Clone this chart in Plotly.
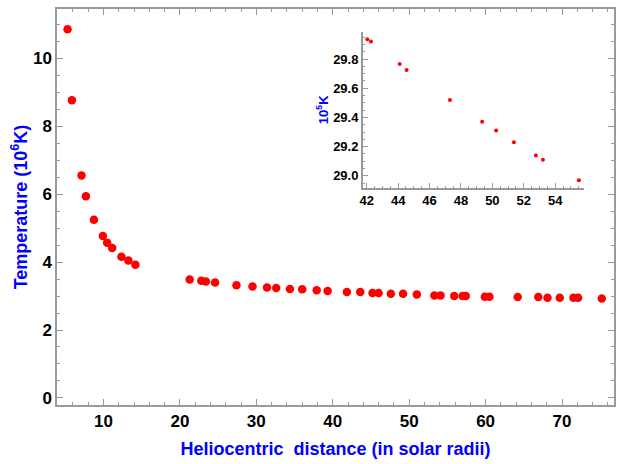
import plotly.graph_objects as go

# Main data: heliocentric distance (solar radii) vs temperature (10^6 K)
dist = [5.3, 5.87, 7.13, 7.7, 8.75, 9.92, 10.48, 11.14, 12.35, 13.26, 14.18,
        21.28, 22.8, 23.4, 24.6, 27.4, 29.5, 31.4, 32.6, 34.4, 36.0, 37.9,
        39.33, 41.85, 43.6, 45.2, 46.0, 47.6, 49.2, 51.0, 53.3, 54.1, 55.9,
        57.0, 57.4, 59.9, 60.5, 64.2, 66.9, 68.1, 69.7, 71.5, 72.1, 75.2]
temp = [10.86, 8.77, 6.55, 5.94, 5.25, 4.77, 4.57, 4.42, 4.16, 4.05, 3.92,
        3.49, 3.45, 3.43, 3.40, 3.32, 3.28, 3.25, 3.24, 3.21, 3.20, 3.17,
        3.15, 3.12, 3.12, 3.09, 3.09, 3.07, 3.07, 3.05, 3.02, 3.02, 3.00,
        3.00, 3.00, 2.98, 2.98, 2.97, 2.97, 2.95, 2.95, 2.95, 2.95, 2.93]

# Inset data: distance vs temperature (10^5 K)
inset_dist = [42.04, 42.27, 44.1, 44.54, 47.3, 49.35, 50.24, 51.37, 52.77, 53.22, 55.51]
inset_temp = [29.936, 29.92, 29.766, 29.725, 29.52, 29.37, 29.31, 29.23, 29.14, 29.11, 28.97]

BLUE = "#0000FF"
GRAY = "#9a9a9a"
FONT = "Liberation Sans"

fig = go.Figure()
fig.add_trace(go.Scatter(x=dist, y=temp, mode="markers",
                         marker=dict(color="#FF0000", size=8.5),
                         xaxis="x", yaxis="y", showlegend=False))
fig.add_trace(go.Scatter(x=inset_dist, y=inset_temp, mode="markers",
                         marker=dict(color="#FF0000", size=4),
                         xaxis="x2", yaxis="y2", showlegend=False))

tickfont_main = dict(family=FONT, size=17, color="black", weight="bold")
tickfont_inset = dict(family=FONT, size=13, color="black", weight="bold")

fig.update_layout(
    width=624, height=464,
    margin=dict(l=57, r=10, t=7, b=59),
    paper_bgcolor="white", plot_bgcolor="white",
    xaxis=dict(
        range=[3.92, 76.8], dtick=10, tick0=0,
        showgrid=False, zeroline=False,
        showline=True, linecolor=GRAY, linewidth=1.5, mirror="allticks",
        ticks="inside", ticklen=6, tickcolor=GRAY, tickwidth=1,
        minor=dict(dtick=2, ticks="inside", ticklen=3, tickcolor=GRAY, showgrid=False),
        tickfont=tickfont_main,
        title=dict(text="Heliocentric  distance (in solar radii)",
                   font=dict(family=FONT, size=18, color=BLUE, weight="bold"),
                   standoff=12),
    ),
    yaxis=dict(
        range=[-0.21, 11.46], dtick=2, tick0=0,
        showgrid=False, zeroline=False,
        showline=True, linecolor=GRAY, linewidth=1.5, mirror="allticks",
        ticks="inside", ticklen=6, tickcolor=GRAY, tickwidth=1,
        minor=dict(dtick=0.5, ticks="inside", ticklen=3, tickcolor=GRAY, showgrid=False),
        tickfont=tickfont_main,
        title=dict(text="Temperature (10<sup>6</sup>K)",
                   font=dict(family=FONT, size=18, color=BLUE, weight="bold"),
                   standoff=1),
    ),
    xaxis2=dict(
        domain=[0.549, 0.946], anchor="y2",
        range=[41.75, 55.83], dtick=2, tick0=0,
        showgrid=False, zeroline=False,
        showline=True, linecolor=GRAY, linewidth=1.5,
        ticks="inside", ticklen=5, tickcolor=GRAY,
        minor=dict(dtick=0.5, ticks="inside", ticklen=2.5, tickcolor=GRAY, showgrid=False),
        tickfont=tickfont_inset,
    ),
    yaxis2=dict(
        domain=[0.5485, 0.942], anchor="x2",
        range=[28.918, 29.986], dtick=0.2, tick0=29.0, tickformat=".1f",
        showgrid=False, zeroline=False,
        showline=True, linecolor=GRAY, linewidth=1.5,
        ticks="inside", ticklen=5, tickcolor=GRAY,
        minor=dict(dtick=0.05, ticks="inside", ticklen=2.5, tickcolor=GRAY, showgrid=False),
        tickfont=tickfont_inset,
        title=dict(text="10<sup>5</sup>K",
                   font=dict(family=FONT, size=13, color=BLUE, weight="bold"),
                   standoff=2),
    ),
)

fig.write_html("out.html")
